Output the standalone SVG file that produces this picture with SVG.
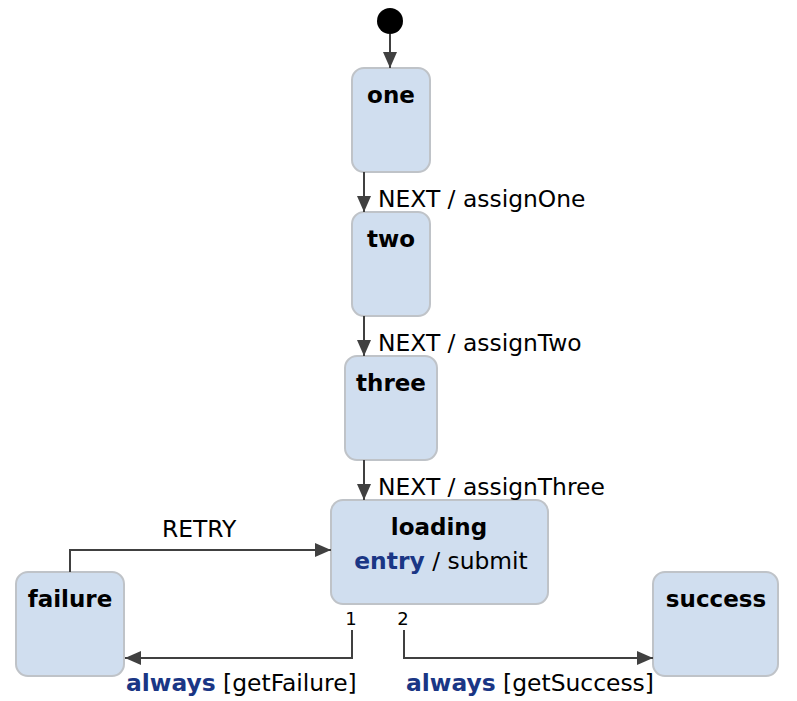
<svg xmlns="http://www.w3.org/2000/svg" width="797" height="701" viewBox="0 0 797 701">
<style>
text{font-family:"DejaVu Sans","Verdana",sans-serif;fill:#000}
.st rect{fill:#d0deef;stroke:#bfc3c8;stroke-width:2}
.name{font-weight:bold;font-size:23px;text-anchor:middle}
.lbl{font-size:23.4px}
.kw{font-weight:bold;fill:#1a3685}
.num{font-size:18px;text-anchor:middle}
.cn path{fill:none;stroke:#404040;stroke-width:2}
</style>
<defs>
<marker id="ah" viewBox="0 0 16 14" refX="16" refY="7" markerWidth="16" markerHeight="14" markerUnits="userSpaceOnUse" orient="auto">
<path d="M0,0 L16,7 L0,14 Z" fill="#404040"/>
</marker>
</defs>
<g id="initial"><circle cx="390" cy="21" r="13" fill="#000"/></g>
<g id="one" class="st"><rect x="352" y="68" width="78" height="104" rx="12"/><text class="name" x="391" y="103">one</text></g>
<g id="two" class="st"><rect x="352" y="212" width="78" height="104" rx="12"/><text class="name" x="391" y="247">two</text></g>
<g id="three" class="st"><rect x="345" y="356" width="92" height="104" rx="12"/><text class="name" x="391" y="391">three</text></g>
<g id="loading" class="st"><rect x="331" y="500" width="217" height="104" rx="12"/><text class="name" x="439" y="535">loading</text><text class="lbl" x="441" y="569" text-anchor="middle"><tspan class="kw">entry</tspan> / submit</text></g>
<g id="failure" class="st"><rect x="16" y="572" width="108" height="104" rx="12"/><text class="name" x="70" y="607">failure</text></g>
<g id="success" class="st"><rect x="653" y="572" width="125" height="104" rx="12"/><text class="name" x="716" y="607">success</text></g>
<g id="connectors" class="cn">
<path d="M390,34 V68" marker-end="url(#ah)"/>
<path d="M364,172 V212" marker-end="url(#ah)"/>
<path d="M364,316 V356" marker-end="url(#ah)"/>
<path d="M364,460 V500" marker-end="url(#ah)"/>
<path d="M70,572 V550 H331" marker-end="url(#ah)"/>
<path d="M352,630 V658 H125" marker-end="url(#ah)"/>
<path d="M404,630 V658 H653" marker-end="url(#ah)"/>
<text class="lbl" x="378" y="207">NEXT / assignOne</text>
<text class="lbl" x="378" y="351">NEXT / assignTwo</text>
<text class="lbl" x="378" y="495">NEXT / assignThree</text>
<text class="lbl" x="162" y="537">RETRY</text>
<text class="num" x="351" y="625">1</text>
<text class="num" x="403" y="625">2</text>
<text class="lbl" x="126" y="691"><tspan class="kw">always</tspan> [getFailure]</text>
<text class="lbl" x="406" y="691"><tspan class="kw">always</tspan> [getSuccess]</text>
</g>
</svg>
